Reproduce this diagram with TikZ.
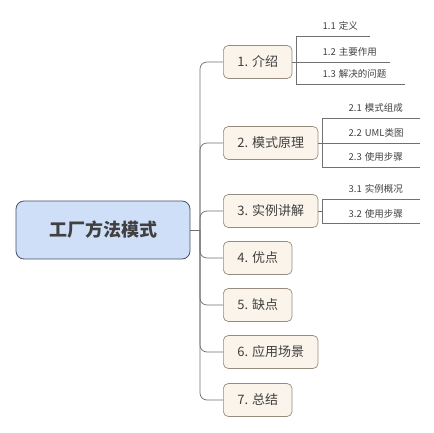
\documentclass[tikz,border=0pt]{standalone}
\usepackage{fontspec}
\setmainfont{Noto Sans CJK SC}
\usetikzlibrary{positioning}
\definecolor{rootfill}{RGB}{206,223,247}
\definecolor{rootline}{RGB}{72,84,104}
\definecolor{topicfill}{RGB}{250,244,234}
\definecolor{topicline}{RGB}{150,140,125}
\definecolor{wire}{RGB}{112,112,112}
\definecolor{ink}{RGB}{64,64,64}

\begin{document}
\begin{tikzpicture}[x=1pt, y=-1pt]
	\tikzset{
		root/.style={draw=rootline, fill=rootfill, rounded corners=8pt, line width=0.8pt, minimum width=174pt, minimum height=58pt, font=\fontsize{18}{20}\selectfont\bfseries, text=ink},
		topic/.style={draw=topicline, fill=topicfill, rounded corners=5pt, line width=0.7pt, anchor=west, minimum height=33pt, inner xsep=14pt, font=\fontsize{13}{15}\selectfont, text=ink},
		subtopic/.style={anchor=base west, inner sep=0pt, font=\fontsize{9.5}{11}\selectfont, text=ink},
		branch/.style={draw=wire, line width=0.7pt, rounded corners=7pt},
		wireline/.style={draw=wire, line width=0.7pt}
	}
	\useasboundingbox (0,0) rectangle (434,433);
	\node[root] (root) at (103,230) {工厂方法模式};
	\coordinate (jr) at (200,230);
	\draw[wireline] (root.east) -- (jr);
	\foreach \i/\y/\t in {1/62/{1. 介绍}, 2/143/{2. 模式原理}, 3/211/{3. 实例讲解}, 4/258/{4. 优点}, 5/305/{5. 缺点}, 6/352/{6. 应用场景}, 7/400/{7. 总结}} {
		\node[topic] (n\i) at (223,\y) {\t};
		\draw[branch] (jr) |- (n\i.west);
	}
	% sub topics
	\foreach \i in {1,2,3} {
		\coordinate (j\i) at ([xshift=4pt]n\i.east);
		\draw[wireline] (n\i.east) -- (j\i);
	}
	\foreach \p/\s/\y/\e/\t in {1/1/36/370/{1.1\hspace{3pt}定义}, 1/2/62/390/{1.2\hspace{3pt}主要作用}, 1/3/84/405/{1.3\hspace{3pt}解决的问题}, 2/1/118/420/{2.1\hspace{3pt}模式组成}, 2/2/143/420/{2.2\hspace{3pt}UML类图}, 2/3/167/420/{2.3\hspace{3pt}使用步骤}, 3/1/199/420/{3.1\hspace{3pt}实例概况}, 3/2/223/420/{3.2\hspace{3pt}使用步骤}} {
		\coordinate (e\p\s) at (\e,\y);
		\node[subtopic] (s\p\s) at ([xshift=26pt, yshift=6pt]j\p |- e\p\s) {\t};
		\draw[wireline] (j\p) |- (e\p\s);
	}
\end{tikzpicture}
\end{document}
